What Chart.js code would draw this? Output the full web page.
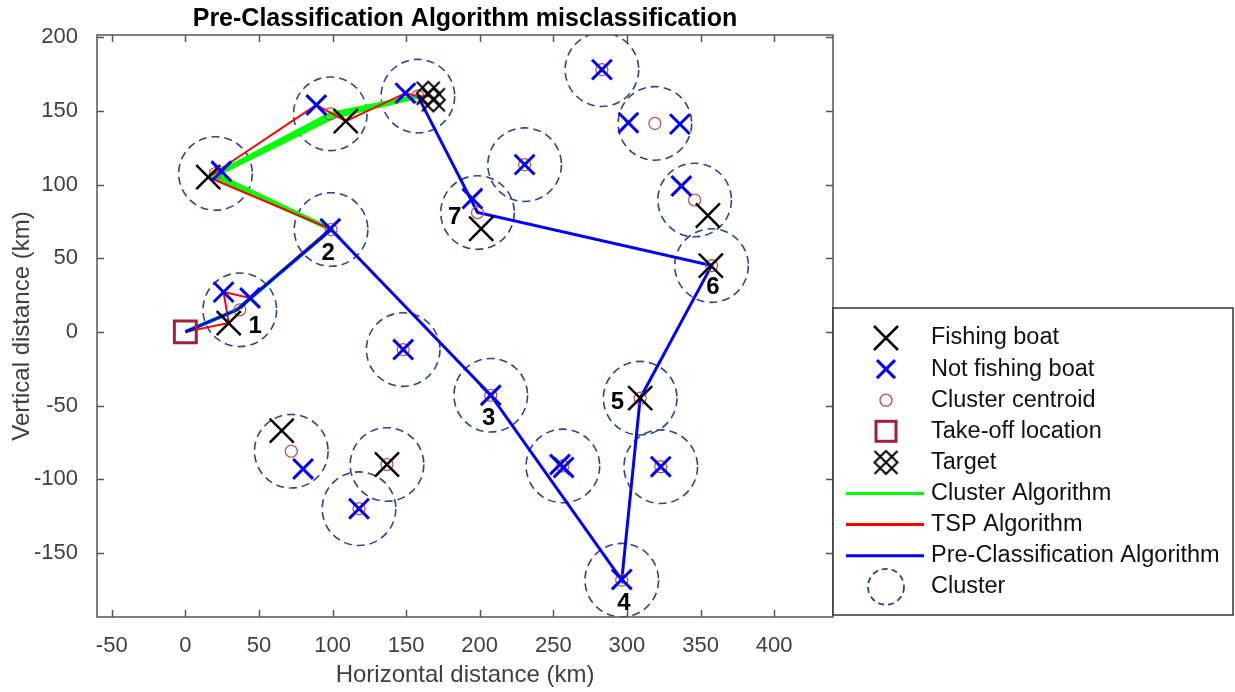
<!DOCTYPE html>
<html>
<head>
<meta charset="utf-8">
<title>Pre-Classification Algorithm misclassification</title>
<script src="https://cdn.jsdelivr.net/npm/chart.js@4.4.1/dist/chart.umd.min.js"></script>
<style>
    html, body { margin: 0; padding: 0; background: #fff; }
    #wrap { width: 1235px; height: 692px; }
</style>
</head>
<body>
<div id="wrap"><canvas id="mapChart" width="1235" height="692"></canvas></div>
<script>
// Axis ticks
const xTicks = [-50, 0, 50, 100, 150, 200, 250, 300, 350, 400];
const yTicks = [-150, -100, -50, 0, 50, 100, 150, 200];

// Fishing boats (black x)
const fishX = [29.5, 15.6, 109, 201, 355, 357, 309, 137, 65.5];
const fishY = [6, 105, 143, 70, 79, 45, -45, -90, -67];

// Not fishing boats (blue x)
const notFishX = [26, 44, 24.5, 98.5, 89, 149.5, 283, 301, 336, 230.5, 195, 337, 148, 207.5, 254.5, 257, 323, 296.5, 80, 118];
const notFishY = [27, 23, 109, 70, 154, 162, 178, 142, 141, 113.5, 90.5, 99, -12, -43, -90, -92, -91.5, -168, -93, -120];

// Cluster centroids (also the centres of the dashed cluster rings)
const centroidX = [37, 20.5, 99, 98.5, 158, 283, 319, 230.5, 198.5, 346, 357.5, 148, 207.5, 309, 256.5, 323, 296.5, 72, 137, 118];
const centroidY = [15, 107.5, 69.5, 148, 160, 178, 141.5, 113.5, 81, 89.5, 45, -12, -43, -45, -91, -91.5, -168.5, -81, -90, -120];
const CLUSTER_RADIUS = 25; // km

// Take-off location and target
const takeoffX = [0];
const takeoffY = [0];
const targetX = [165, 168.5];
const targetY = [162, 157.5];

// Routes
const clusterAlgX = [0, 35, 99, 20.5, 98.5, 158];
const clusterAlgY = [0, 15, 69.5, 107, 148, 160];
const clusterAlg2X = [99, 19, 101, 158];
const clusterAlg2Y = [69.5, 105.5, 146, 159.5];
const tspX = [0, 29.5, 26, 44, 98.5, 15.6, 89, 109, 149.5, 158, 166.5];
const tspY = [0, 6, 27, 23, 70, 105, 154, 143, 162, 160, 160];
const preClassX = [0, 35, 99, 207.5, 296.5, 309, 357.5, 198.5, 158];
const preClassY = [0, 15, 69.5, -43, -168.5, -45, 45, 81, 160];

// Visit order labels of the pre-classification route
const stopText = ['1', '2', '3', '4', '5', '6', '7'];
const stopX = [47.5, 97, 206, 298, 293.5, 358.5, 183];
const stopY = [4, 53, -59, -184, -47.5, 30, 77.5];

const legendLabels = ['Fishing boat', 'Not fishing boat', 'Cluster centroid', 'Take-off location', 'Target',
    'Cluster Algorithm', 'TSP Algorithm', 'Pre-Classification Algorithm', 'Cluster'];

const FONT = "'Liberation Sans', Arial, sans-serif";
const RING_COLOR = '#2b4593';
const AXIS_COLOR = '#555555';

function pts(xs, ys) {
    return xs.map((x, i) => ({ x: x, y: ys[i] }));
}

// target marker: diamond with an x through it
function makeTargetMarker(size, lw) {
    const c = document.createElement('canvas');
    c.width = size;
    c.height = size;
    const g = c.getContext('2d');
    const m = lw, e = size - lw, h = size / 2;
    g.strokeStyle = '#000';
    g.lineWidth = lw;
    g.beginPath();
    g.moveTo(m, m); g.lineTo(e, e);
    g.moveTo(e, m); g.lineTo(m, e);
    g.moveTo(h, m); g.lineTo(e, h); g.lineTo(h, e); g.lineTo(m, h); g.closePath();
    g.stroke();
    return c;
}
const targetImg = makeTargetMarker(27, 2);

// dashed cluster rings, sized through the x scale
const clusterRings = {
    id: 'clusterRings',
    beforeDatasetsDraw(chart) {
        const { ctx, chartArea: a, scales: { x, y } } = chart;
        ctx.save();
        ctx.beginPath();
        ctx.rect(a.left, a.top, a.width, a.height);
        ctx.clip();
        ctx.strokeStyle = RING_COLOR;
        ctx.lineWidth = 1.6;
        ctx.setLineDash([8, 5]);
        centroidX.forEach((cx, i) => {
            const px = x.getPixelForValue(cx);
            const py = y.getPixelForValue(centroidY[i]);
            const r = x.getPixelForValue(cx + CLUSTER_RADIUS) - px;
            ctx.beginPath();
            ctx.arc(px, py, r, 0, Math.PI * 2);
            ctx.stroke();
        });
        ctx.restore();
    }
};

// numbers 1..7 next to the stops
const stopLabels = {
    id: 'stopLabels',
    afterDatasetsDraw(chart) {
        const { ctx, scales: { x, y } } = chart;
        ctx.save();
        ctx.font = "bold 24px " + FONT;
        ctx.fillStyle = '#000';
        ctx.textAlign = 'center';
        ctx.textBaseline = 'middle';
        stopText.forEach((t, i) => {
            ctx.fillText(t, x.getPixelForValue(stopX[i]), y.getPixelForValue(stopY[i]));
        });
        ctx.restore();
    }
};

// MATLAB style box with inward ticks on all four sides
const axesBox = {
    id: 'axesBox',
    afterDraw(chart) {
        const { ctx, chartArea: a, scales: { x, y } } = chart;
        const tl = 7;
        ctx.save();
        ctx.strokeStyle = AXIS_COLOR;
        ctx.lineWidth = 1.5;
        ctx.strokeRect(a.left, a.top, a.width, a.height);
        ctx.beginPath();
        xTicks.forEach(v => {
            const px = Math.round(x.getPixelForValue(v)) + 0.5;
            ctx.moveTo(px, a.bottom); ctx.lineTo(px, a.bottom - tl);
            ctx.moveTo(px, a.top); ctx.lineTo(px, a.top + tl);
        });
        yTicks.forEach(v => {
            const py = Math.round(y.getPixelForValue(v)) + 0.5;
            ctx.moveTo(a.left, py); ctx.lineTo(a.left + tl, py);
            ctx.moveTo(a.right, py); ctx.lineTo(a.right - tl, py);
        });
        ctx.stroke();
        ctx.restore();
    }
};

function strokeX(ctx, x, y, half, color, lw) {
    ctx.strokeStyle = color;
    ctx.lineWidth = lw;
    ctx.beginPath();
    ctx.moveTo(x - half, y - half); ctx.lineTo(x + half, y + half);
    ctx.moveTo(x + half, y - half); ctx.lineTo(x - half, y + half);
    ctx.stroke();
}

// legend box hanging over the right edge of the axes
const sideLegend = {
    id: 'sideLegend',
    afterDraw(chart) {
        const ctx = chart.ctx;
        const box = { left: 833, top: 308, right: 1233, bottom: 615 };
        const mx = 886, tx = 931, y0 = 338, dy = 31.1;
        ctx.save();
        ctx.fillStyle = '#fff';
        ctx.fillRect(box.left, box.top, box.right - box.left, box.bottom - box.top);
        ctx.strokeStyle = '#333';
        ctx.lineWidth = 1.5;
        ctx.strokeRect(box.left, box.top, box.right - box.left, box.bottom - box.top);

        legendLabels.forEach((label, i) => {
            const cy = y0 + i * dy;
            ctx.setLineDash([]);
            if (i === 0) strokeX(ctx, mx, cy, 12, '#000', 2.5);
            if (i === 1) strokeX(ctx, mx, cy, 9, '#0000ff', 3);
            if (i === 2) {
                ctx.strokeStyle = '#c1484f'; ctx.lineWidth = 1.3;
                ctx.beginPath(); ctx.arc(mx, cy, 6, 0, Math.PI * 2); ctx.stroke();
            }
            if (i === 3) {
                ctx.strokeStyle = '#a2203d'; ctx.lineWidth = 3;
                ctx.strokeRect(mx - 10, cy - 10, 20, 20);
            }
            if (i === 4) ctx.drawImage(targetImg, mx - targetImg.width / 2, cy - targetImg.height / 2);
            if (i >= 5 && i <= 7) {
                ctx.strokeStyle = ['#00ff00', '#ff0000', '#0000ff'][i - 5];
                ctx.lineWidth = 3;
                ctx.beginPath(); ctx.moveTo(846, cy); ctx.lineTo(924, cy); ctx.stroke();
            }
            if (i === 8) {
                ctx.strokeStyle = RING_COLOR; ctx.lineWidth = 1.8;
                ctx.setLineDash([6, 4]);
                ctx.beginPath(); ctx.arc(mx, cy, 18, 0, Math.PI * 2); ctx.stroke();
                ctx.setLineDash([]);
            }
            ctx.fillStyle = '#111';
            ctx.font = "23.5px " + FONT;
            ctx.textAlign = 'left';
            ctx.textBaseline = 'middle';
            ctx.fillText(label, tx, cy);
        });
        ctx.restore();
    }
};

const ctx = document.getElementById('mapChart').getContext('2d');
new Chart(ctx, {
    type: 'scatter',
    data: {
        datasets: [
            {
                label: 'Target',
                data: pts(targetX, targetY),
                pointStyle: targetImg,
                pointRadius: 13
            },
            {
                label: 'Take-off location',
                data: pts(takeoffX, takeoffY),
                pointStyle: 'rect',
                pointRadius: 15.5,
                borderColor: '#a2203d',
                backgroundColor: 'rgba(0,0,0,0)',
                borderWidth: 3
            },
            {
                label: 'Not fishing boat',
                data: pts(notFishX, notFishY),
                pointStyle: 'crossRot',
                pointRadius: 14,
                borderColor: '#0000ff',
                borderWidth: 3
            },
            {
                label: 'Fishing boat',
                data: pts(fishX, fishY),
                pointStyle: 'crossRot',
                pointRadius: 17,
                borderColor: '#000',
                borderWidth: 2.5
            },
            {
                label: 'Cluster centroid',
                data: pts(centroidX, centroidY),
                pointStyle: 'circle',
                pointRadius: 6,
                borderColor: '#c1484f',
                backgroundColor: 'rgba(0,0,0,0)',
                borderWidth: 1.2
            },
            {
                label: 'Pre-Classification Algorithm',
                data: pts(preClassX, preClassY),
                showLine: true,
                pointRadius: 0,
                borderColor: '#0000ff',
                borderWidth: 3
            },
            {
                label: 'TSP Algorithm',
                data: pts(tspX, tspY),
                showLine: true,
                pointRadius: 0,
                borderColor: '#ff0000',
                borderWidth: 2
            },
            {
                label: 'Cluster Algorithm',
                data: pts(clusterAlgX, clusterAlgY),
                showLine: true,
                pointRadius: 0,
                borderColor: '#00ff00',
                borderWidth: 4
            },
            {
                label: 'Cluster Algorithm (2)',
                data: pts(clusterAlg2X, clusterAlg2Y),
                showLine: true,
                pointRadius: 0,
                borderColor: '#00ff00',
                borderWidth: 4
            }
        ]
    },
    options: {
        responsive: false,
        animation: false,
        events: [],
        layout: { padding: { left: 0, right: 402, top: 0, bottom: 0 } },
        plugins: {
            legend: { display: false },
            tooltip: { enabled: false },
            title: {
                display: true,
                text: 'Pre-Classification Algorithm misclassification',
                fullSize: false,
                color: '#000',
                font: { family: FONT, size: 25, weight: 'bold' },
                padding: { top: 4.4, bottom: 0.6 }
            }
        },
        scales: {
            x: {
                type: 'linear',
                min: -60,
                max: 440,
                grid: { display: false },
                border: { display: false },
                afterBuildTicks: s => { s.ticks = xTicks.map(v => ({ value: v })); },
                afterFit: s => { s.height = 75; },
                ticks: { color: '#404040', font: { family: FONT, size: 22 }, padding: 8, maxRotation: 0, autoSkip: false },
                title: {
                    display: true,
                    text: 'Horizontal distance (km)',
                    color: '#404040',
                    font: { family: FONT, size: 24 },
                    padding: { top: 0, bottom: 2 }
                }
            },
            y: {
                type: 'linear',
                min: -193.5,
                max: 201.5,
                grid: { display: false },
                border: { display: false },
                afterBuildTicks: s => { s.ticks = yTicks.map(v => ({ value: v })); },
                afterFit: s => { s.width = 97; },
                ticks: { color: '#404040', font: { family: FONT, size: 22 }, padding: 11, autoSkip: false },
                title: {
                    display: true,
                    text: 'Vertical distance (km)',
                    color: '#404040',
                    font: { family: FONT, size: 24 },
                    padding: { top: 8, bottom: 0 }
                }
            }
        }
    },
    plugins: [clusterRings, stopLabels, axesBox, sideLegend]
});
</script>
</body>
</html>
